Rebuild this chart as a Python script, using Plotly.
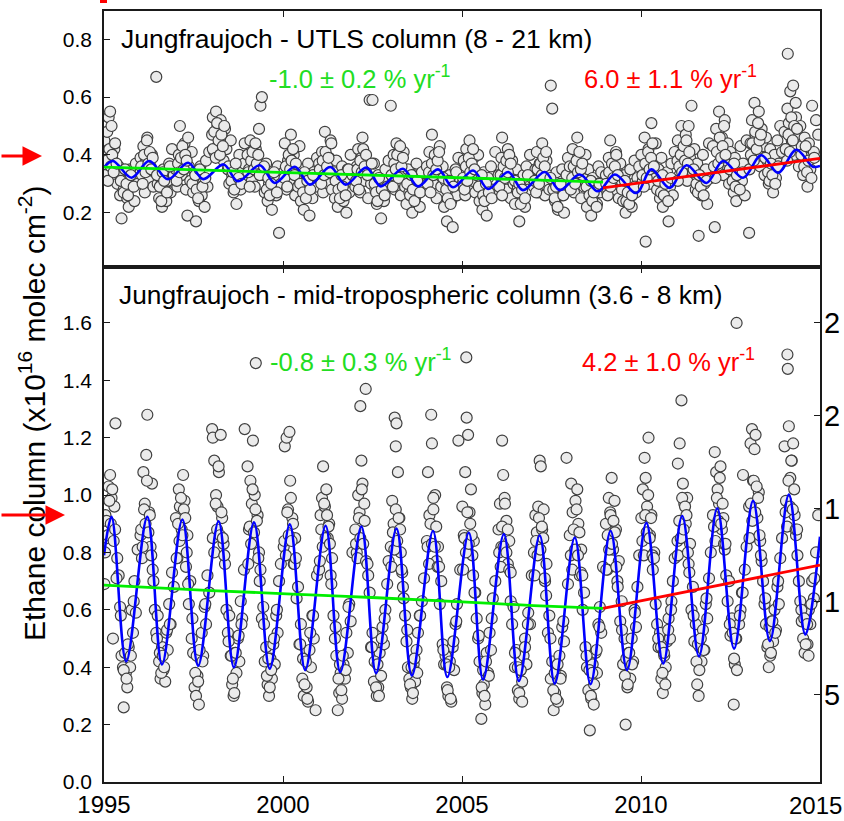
import plotly.graph_objects as go

# ---------------- data (decimal year of each FTIR observation) ----------------
obs_t = [
 1995.01,1995.04,1995.09,1995.13,1995.17,1995.21,1995.25,1995.29,1995.32,1995.37,1995.41,1995.45,1995.49,1995.53,1995.55,1995.61,1995.65,1995.69,1995.73,1995.77,1995.81,1995.85,1995.89,1995.94,
 1996.02,1996.06,1996.10,1996.14,1996.18,1996.21,1996.26,1996.30,1996.34,1996.38,1996.42,1996.46,1996.50,1996.54,1996.58,1996.62,1996.66,1996.71,1996.74,1996.78,1996.82,1996.86,1996.90,1996.95,
 1997.01,1997.05,1997.09,1997.12,1997.17,1997.21,1997.25,1997.29,1997.33,1997.37,1997.41,1997.45,1997.49,1997.53,1997.57,1997.61,1997.65,1997.69,1997.73,1997.77,1997.81,1997.85,1997.89,1997.94,
 1998.02,1998.04,1998.08,1998.13,1998.17,1998.21,1998.26,1998.30,1998.34,1998.38,1998.42,1998.46,1998.50,1998.54,1998.58,1998.62,1998.66,1998.70,1998.74,1998.78,1998.82,1998.86,1998.91,1998.93,
 1999.01,1999.05,1999.09,1999.13,1999.16,1999.21,1999.24,1999.29,1999.33,1999.37,1999.41,1999.45,1999.49,1999.53,1999.57,1999.61,1999.65,1999.69,1999.73,1999.77,1999.81,1999.85,1999.89,1999.94,
 2000.02,2000.05,2000.10,2000.14,2000.18,2000.22,2000.26,2000.30,2000.34,2000.38,2000.42,2000.46,2000.50,2000.54,2000.58,2000.62,2000.66,2000.70,2000.74,2000.78,2000.82,2000.86,2000.91,2000.95,
 2001.01,2001.05,2001.09,2001.12,2001.17,2001.21,2001.25,2001.29,2001.33,2001.37,2001.41,2001.45,2001.49,2001.53,2001.57,2001.61,2001.65,2001.69,2001.73,2001.77,2001.81,2001.85,2001.89,2001.94,
 2002.02,2002.06,2002.10,2002.14,2002.16,2002.19,2002.22,2002.27,2002.31,2002.38,2002.42,2002.46,2002.50,2002.54,2002.58,2002.62,2002.66,2002.70,2002.74,2002.78,2002.82,2002.86,2002.91,2002.95,
 2003.01,2003.05,2003.09,2003.12,2003.15,2003.17,2003.21,2003.25,2003.29,2003.33,2003.37,2003.41,2003.45,2003.49,2003.53,2003.57,2003.61,2003.65,2003.69,2003.73,2003.77,2003.82,2003.88,2003.94,
 2004.02,2004.05,2004.09,2004.14,2004.16,2004.20,2004.25,2004.29,2004.33,2004.38,2004.42,2004.46,2004.50,2004.54,2004.58,2004.62,2004.66,2004.70,2004.74,2004.78,2004.82,2004.86,2004.90,2004.95,
 2005.01,2005.05,2005.09,2005.12,2005.13,2005.17,2005.21,2005.25,2005.29,2005.33,2005.37,2005.41,2005.45,2005.49,2005.54,2005.57,2005.61,2005.65,2005.69,2005.73,2005.77,2005.81,2005.86,2005.93,
 2006.02,2006.06,2006.10,2006.12,2006.15,2006.19,2006.24,2006.28,2006.32,2006.36,2006.40,2006.44,2006.48,2006.52,2006.56,2006.60,2006.64,2006.68,2006.72,2006.76,2006.80,2006.85,2006.90,2006.95,
 2007.01,2007.05,2007.09,2007.13,2007.17,2007.20,2007.24,2007.28,2007.32,2007.36,2007.40,2007.44,2007.48,2007.52,2007.56,2007.60,2007.64,2007.68,2007.72,2007.76,2007.80,2007.85,2007.92,2007.96,
 2008.01,2008.05,2008.09,2008.13,2008.17,2008.22,2008.25,2008.29,2008.33,2008.37,2008.41,2008.45,2008.49,2008.53,2008.57,2008.61,2008.65,2008.69,2008.73,2008.77,2008.81,2008.85,2008.89,2008.94,
 2009.02,2009.06,2009.10,2009.14,2009.18,2009.22,2009.26,2009.30,2009.34,2009.38,2009.42,2009.46,2009.50,2009.54,2009.57,2009.62,2009.66,2009.70,2009.74,2009.78,2009.82,2009.86,2009.90,2009.95,
 2010.01,2010.05,2010.10,2010.13,2010.17,2010.21,2010.25,2010.29,2010.33,2010.37,2010.41,2010.45,2010.49,2010.53,2010.57,2010.61,2010.65,2010.69,2010.73,2010.77,2010.81,2010.85,2010.89,2010.94,
 2011.02,2011.03,2011.08,2011.13,2011.17,2011.21,2011.25,2011.29,2011.33,2011.37,2011.41,2011.45,2011.49,2011.53,2011.57,2011.61,2011.65,2011.69,2011.73,2011.77,2011.81,2011.85,2011.90,2011.95,
 2012.01,2012.06,2012.10,2012.14,2012.18,2012.22,2012.26,2012.30,2012.34,2012.38,2012.42,2012.46,2012.50,2012.54,2012.59,2012.62,2012.66,2012.67,2012.74,2012.78,2012.82,2012.85,2012.90,2012.95,
 2013.02,2013.06,2013.10,2013.13,2013.17,2013.20,2013.25,2013.29,2013.33,2013.37,2013.41,2013.45,2013.49,2013.53,2013.57,2013.61,2013.65,2013.69,2013.73,2013.77,2013.81,2013.85,2013.89,2013.94,
 2014.01,2014.05,2014.09,2014.10,2014.13,2014.17,2014.21,2014.25,2014.29,2014.33,2014.37,2014.41,2014.45,2014.49,2014.53,2014.57,2014.61,2014.65,2014.69,2014.73,2014.78,2014.83,2014.89,2014.95,
 # additional observation days
 1995.03,1995.07,1995.11,1995.15,1995.19,1995.23,1995.27,1995.31,1995.35,1995.47,1995.55,1995.59,1995.63,1995.67,1995.75,1995.83,
 1996.04,1996.08,1996.12,1996.16,1996.20,1996.24,1996.28,1996.32,1996.36,1996.48,1996.56,1996.60,1996.64,1996.68,1996.76,1996.84,
 1997.03,1997.07,1997.11,1997.15,1997.19,1997.23,1997.27,1997.31,1997.35,1997.47,1997.55,1997.59,1997.63,1997.67,1997.75,1997.83,
 1998.04,1998.08,1998.12,1998.16,1998.20,1998.24,1998.28,1998.32,1998.36,1998.48,1998.56,1998.60,1998.64,1998.68,1998.76,1998.84,
 1999.03,1999.07,1999.11,1999.15,1999.19,1999.23,1999.27,1999.31,1999.35,1999.47,1999.55,1999.59,1999.63,1999.67,1999.75,1999.83,
 2000.04,2000.08,2000.12,2000.16,2000.20,2000.24,2000.28,2000.32,2000.36,2000.48,2000.56,2000.60,2000.64,2000.68,2000.76,2000.84,
 2001.03,2001.07,2001.11,2001.15,2001.19,2001.23,2001.27,2001.31,2001.35,2001.47,2001.55,2001.59,2001.63,2001.67,2001.75,2001.83,
 2002.04,2002.08,2002.12,2002.16,2002.20,2002.24,2002.28,2002.32,2002.36,2002.48,2002.56,2002.60,2002.64,2002.68,2002.76,2002.84,
 2003.03,2003.07,2003.11,2003.15,2003.19,2003.23,2003.27,2003.31,2003.35,2003.47,2003.55,2003.59,2003.63,2003.67,2003.75,2003.83,
 2004.04,2004.08,2004.12,2004.16,2004.20,2004.24,2004.28,2004.32,2004.36,2004.48,2004.56,2004.60,2004.64,2004.68,2004.76,2004.84,
 2005.03,2005.07,2005.11,2005.15,2005.19,2005.23,2005.27,2005.31,2005.35,2005.47,2005.55,2005.59,2005.63,2005.67,2005.75,2005.83,
 2006.04,2006.08,2006.12,2006.16,2006.20,2006.24,2006.28,2006.32,2006.36,2006.48,2006.56,2006.60,2006.64,2006.68,2006.76,2006.84,
 2007.03,2007.07,2007.11,2007.15,2007.19,2007.23,2007.27,2007.31,2007.35,2007.47,2007.55,2007.59,2007.63,2007.67,2007.75,2007.83,
 2008.04,2008.08,2008.12,2008.16,2008.20,2008.24,2008.28,2008.32,2008.36,2008.48,2008.56,2008.60,2008.64,2008.68,2008.76,2008.84,
 2009.03,2009.07,2009.11,2009.15,2009.19,2009.23,2009.27,2009.31,2009.35,2009.47,2009.55,2009.59,2009.63,2009.67,2009.75,2009.83,
 2010.04,2010.08,2010.12,2010.16,2010.20,2010.24,2010.28,2010.32,2010.36,2010.48,2010.56,2010.60,2010.64,2010.68,2010.76,2010.84,
 2011.03,2011.07,2011.11,2011.15,2011.19,2011.23,2011.27,2011.31,2011.35,2011.47,2011.55,2011.59,2011.63,2011.67,2011.75,2011.83,
 2012.04,2012.08,2012.12,2012.16,2012.20,2012.24,2012.28,2012.32,2012.36,2012.48,2012.56,2012.60,2012.64,2012.68,2012.76,2012.84,
 2013.03,2013.07,2013.11,2013.15,2013.19,2013.23,2013.27,2013.31,2013.35,2013.47,2013.55,2013.59,2013.63,2013.67,2013.75,2013.83,
 2014.04,2014.08,2014.12,2014.16,2014.20,2014.24,2014.28,2014.32,2014.36,2014.48,2014.56,2014.60,2014.64,2014.68,2014.76,2014.84,
]

# UTLS partial column (x1e16 molec/cm2)
utls_v = [
 .45,.40,.48,.53,.55,.50,.38,.42,.34,.30,.36,.26,.18,.33,.28,.31,.25,.22,.35,.29,.32,.24,.37,.30,
 .39,.33,.43,.27,.38,.46,.31,.36,.40,.29,.34,.67,.30,.25,.32,.22,.35,.28,.24,.31,.37,.27,.42,.33,
 .35,.29,.40,.50,.33,.37,.44,.28,.19,.36,.31,.41,.27,.34,.17,.30,.24,.36,.26,.32,.22,.38,.29,.41,
 .47,.53,.41,.55,.50,.44,.52,.46,.38,.49,.42,.35,.30,.45,.33,.27,.36,.23,.31,.40,.28,.34,.37,.44,
 .40,.35,.45,.31,.38,.29,.42,.36,.49,.57,.60,.33,.27,.37,.24,.30,.34,.21,.28,.32,.26,.36,.13,.30,
 .34,.44,.28,.38,.31,.47,.36,.40,.26,.33,.29,.43,.24,.35,.21,.30,.27,.37,.19,.32,.25,.34,.29,.39,
 .37,.31,.41,.27,.48,.35,.30,.39,.45,.28,.34,.25,.38,.22,.32,.29,.36,.24,.31,.20,.35,.27,.40,.33,
 .29,.36,.42,.33,.27,.39,.46,.31,.35,.25,.59,.30,.59,.37,.28,.23,.33,.26,.18,.31,.24,.35,.29,.38,
 .57,.33,.40,.28,.36,.44,.31,.38,.26,.34,.41,.29,.23,.35,.27,.31,.20,.33,.25,.37,.29,.22,.34,.30,
 .36,.28,.41,.33,.47,.30,.38,.25,.34,.43,.29,.36,.22,.31,.17,.27,.33,.24,.15,.29,.35,.26,.39,.31,
 .30,.38,.26,.42,.34,.29,.45,.36,.31,.39,.27,.33,.40,.24,.30,.21,.34,.27,.19,.32,.25,.36,.28,.41,
 .33,.27,.39,.46,.31,.36,.28,.42,.34,.25,.38,.30,.23,.35,.29,.17,.31,.26,.33,.22,.36,.28,.40,.32,
 .29,.35,.41,.27,.37,.32,.44,.30,.26,.38,.33,.28,.64,.56,.31,.24,.34,.21,.29,.26,.35,.20,.33,.39,
 .36,.30,.42,.27,.34,.46,.31,.38,.25,.33,.29,.40,.22,.35,.28,.19,.32,.26,.30,.23,.36,.27,.34,.29,
 .33,.27,.39,.45,.30,.36,.28,.41,.34,.25,.37,.31,.24,.33,.20,.29,.26,.35,.22,.30,.38,.27,.32,.36,
 .40,.31,.46,.10,.36,.42,.30,.51,.38,.33,.44,.28,.35,.25,.39,.22,.31,.27,.34,.17,.29,.37,.26,.41,
 .38,.45,.33,.50,.41,.36,.47,.31,.50,.39,.57,.34,.42,.28,.37,.12,.33,.26,.40,.30,.35,.23,.44,.32,
 .43,.15,.49,.36,.55,.40,.46,.33,.52,.38,.44,.30,.41,.35,.27,.39,.24,.33,.29,.43,.31,.37,.26,.45,
 .13,.44,.52,.39,.58,.47,.41,.55,.36,.49,.43,.33,.46,.38,.30,.42,.35,.27,.40,.32,.45,.37,.50,.41,
 .48,.42,.56,.75,.51,.62,.45,.64,.40,.53,.47,.36,.50,.43,.33,.46,.39,.29,.44,.35,.57,.41,.52,.47,
 # additional observation days
 .33,.38,.31,.42,.36,.40,.34,.44,.37,.31,.27,.35,.30,.26,.33,.29,
 .36,.30,.40,.34,.45,.37,.41,.35,.39,.33,.29,.24,.34,.31,.27,.36,
 .31,.37,.34,.39,.43,.35,.40,.38,.46,.30,.33,.28,.25,.35,.29,.32,
 .42,.48,.39,.51,.45,.40,.47,.43,.50,.36,.31,.34,.28,.37,.32,.30,
 .34,.29,.38,.41,.35,.44,.37,.40,.33,.36,.28,.32,.26,.30,.34,.27,
 .32,.36,.29,.40,.35,.38,.42,.33,.37,.30,.27,.34,.25,.31,.28,.33,
 .35,.30,.38,.33,.41,.36,.39,.34,.44,.31,.28,.25,.33,.29,.26,.35,
 .31,.35,.28,.38,.34,.42,.36,.40,.33,.37,.30,.27,.24,.32,.28,.26,
 .33,.29,.37,.35,.40,.32,.43,.36,.39,.30,.26,.33,.28,.24,.31,.27,
 .30,.34,.27,.37,.33,.40,.35,.38,.41,.32,.28,.25,.31,.23,.29,.34,
 .32,.28,.36,.31,.39,.34,.37,.42,.35,.29,.33,.26,.24,.30,.27,.25,
 .29,.33,.26,.36,.32,.38,.34,.40,.37,.31,.27,.30,.23,.28,.25,.33,
 .31,.27,.35,.30,.37,.33,.39,.36,.41,.32,.28,.25,.29,.22,.30,.26,
 .28,.32,.36,.30,.38,.34,.41,.35,.37,.29,.26,.31,.24,.27,.22,.30,
 .30,.26,.34,.29,.37,.32,.36,.40,.33,.28,.31,.24,.27,.23,.26,.29,
 .33,.29,.37,.32,.41,.35,.39,.44,.36,.31,.27,.33,.26,.30,.24,.32,
 .31,.36,.40,.34,.43,.38,.45,.37,.41,.35,.30,.27,.33,.29,.26,.31,
 .36,.32,.41,.37,.46,.39,.43,.50,.40,.35,.31,.37,.29,.33,.28,.34,
 .35,.40,.44,.38,.48,.42,.51,.45,.47,.39,.34,.31,.37,.33,.30,.36,
 .42,.38,.47,.41,.53,.45,.50,.58,.49,.40,.36,.43,.34,.38,.32,.39,
]

# mid-tropospheric partial column (x1e16 molec/cm2)
midtrop_v = [
 .69,.93,.85,1.03,1.07,.99,.50,.96,1.25,.78,.72,.61,.44,.40,.26,.38,.33,.47,.40,.60,.52,.70,.59,.81,
 .86,.78,1.08,.97,1.14,1.28,.94,.82,1.04,.70,.60,.52,.58,.42,.36,.47,.39,.35,.52,.46,.62,.55,.73,.68,
 .92,.78,1.02,.96,.88,1.07,.98,.75,.86,.62,.70,.50,.45,.33,.30,.37,.27,.43,.52,.44,.61,.55,.72,.66,
 1.23,1.20,1.12,1.00,.96,1.08,1.21,.92,.83,.76,.60,.52,.58,.44,.34,.30,.45,.38,.50,.42,.63,.57,.74,1.23,
 1.10,.88,1.05,.97,1.19,1.00,1.46,.93,.80,.74,.57,.61,.42,.47,.34,.30,.43,.36,.48,.41,.58,.52,.70,.76,
 .82,1.17,1.20,.95,1.22,.99,.92,.76,.85,.64,.68,.48,.55,.36,.30,.43,.33,.28,.46,.40,.58,.50,.25,.72,
 .74,.93,.99,1.10,.96,1.02,.85,.90,.72,.78,.58,.50,.44,.25,.31,.38,.29,.41,.36,.52,.45,.62,.56,.80,
 .88,.80,1.00,.94,1.31,1.12,1.04,.97,1.37,.72,.66,.47,.52,.35,.42,.30,.33,.45,.37,.54,.48,.60,.69,.77,
 .82,.98,.90,1.27,1.17,1.25,1.08,.92,.80,.73,.64,.58,.49,.40,.36,.33,.29,.41,.35,.46,.52,.58,.63,.71,
 .84,1.08,.93,1.28,1.18,.95,1.00,.77,.82,.62,.70,.48,.41,.44,.33,.30,.42,.28,.47,.39,.55,.62,1.19,.74,
 .96,.86,1.08,1.48,1.27,1.21,.94,1.02,.79,.84,.66,.57,.50,.42,.22,.31,.34,.27,.45,.38,.52,.46,.64,.70,
 .88,.97,.82,1.19,1.07,.99,.91,.76,.84,.63,.55,.61,.40,.46,.32,.29,.39,.35,.44,.50,.41,.59,.55,.72,
 .80,.93,.87,.96,1.12,1.10,.88,.95,.70,.76,.52,.58,.36,.42,.25,.31,.38,.28,.44,.37,.54,.49,1.13,.69,
 .86,1.04,.94,.80,.98,1.02,.90,.72,.81,.60,.66,.47,.40,.32,.18,.29,.41,.34,.45,.38,.55,.61,.52,.75,
 .90,.74,.99,.94,1.06,.81,.98,.88,.70,.77,.56,.63,.41,.50,.20,.33,.45,.36,.50,.42,.60,.54,.68,.79,
 .92,1.02,1.13,1.06,.96,1.20,.86,.93,.74,.80,.62,.55,.47,.52,.36,.31,.44,.40,.49,.57,.50,.63,.70,.78,
 .84,1.11,1.18,1.33,1.04,.97,.90,.99,.76,.83,.60,.68,.49,.55,.34,.30,.47,.42,.53,.46,.62,.57,.71,.80,
 .93,1.15,1.08,1.02,.97,1.10,.88,.92,.81,.72,.63,.70,.51,.57,.27,.41,.50,1.60,.55,.60,.66,1.07,.74,.82,
 .96,1.18,1.23,1.05,1.16,1.21,.92,1.01,.84,.77,.70,.62,.55,.47,.40,.44,.56,.49,.60,.53,.68,.62,.78,.85,
 1.17,.98,1.49,1.44,1.24,1.06,1.12,1.18,.93,.86,.79,.70,.63,.56,.50,.45,.58,.48,.60,.55,.70,.64,.80,.93,
 # additional observation days
 .80,.91,.86,.98,.90,1.02,.84,.88,.71,.58,.39,.45,.36,.48,.44,.63,
 .88,.82,.95,.90,1.05,.87,.93,.79,.74,.50,.45,.38,.44,.40,.53,.55,
 .78,.90,.84,.99,.86,.95,.92,.80,.69,.57,.38,.44,.35,.46,.42,.62,
 .85,.80,.97,.88,1.10,.86,.94,.85,.79,.49,.44,.36,.31,.45,.51,.55,
 .76,.89,.83,1.02,.87,.95,.91,.78,.70,.55,.37,.43,.33,.39,.50,.60,
 .84,.79,.94,.86,1.05,.84,.90,.76,.78,.48,.43,.34,.42,.29,.52,.58,
 .77,.88,.82,.97,.85,.93,.89,.83,.69,.54,.36,.41,.32,.44,.39,.61,
 .83,.78,.92,.85,1.02,.83,.91,.77,.76,.47,.42,.33,.41,.30,.50,.57,
 .75,.87,.81,.95,.84,.92,.88,.74,.68,.53,.34,.40,.31,.43,.38,.58,
 .82,.76,.90,.83,.99,.82,.89,.75,.75,.46,.41,.32,.40,.29,.49,.56,
 .74,.85,.80,.94,.83,.90,.86,.72,.66,.51,.33,.39,.30,.42,.37,.57,
 .80,.75,.89,.82,.97,.80,.88,.74,.73,.45,.40,.31,.39,.28,.47,.55,
 .72,.84,.79,.92,.81,.89,.85,.71,.65,.50,.32,.38,.29,.41,.36,.56,
 .79,.74,.88,.81,.95,.79,.87,.73,.72,.44,.39,.30,.38,.27,.46,.54,
 .74,.86,.81,.93,.83,.91,.87,.75,.68,.53,.37,.43,.34,.45,.41,.59,
 .84,.79,.93,.87,1.00,.85,.92,.79,.78,.50,.47,.38,.45,.34,.53,.60,
 .79,.91,.85,.99,.88,.96,.93,.80,.73,.58,.42,.48,.39,.50,.46,.64,
 .89,.84,.99,.91,1.06,.90,.97,.83,.83,.55,.52,.43,.50,.39,.58,.66,
 .85,.97,.91,1.05,.94,1.03,.99,.86,.79,.64,.48,.54,.45,.56,.52,.70,
 .94,.89,1.05,.96,1.12,.95,1.02,.88,.88,.60,.57,.48,.55,.44,.62,.71,
]

# fitted seasonal curves (maxima / minima)
utls_fit_t = [1995.0,1995.25,1995.77,1996.26,1996.79,1997.35,1997.77,1998.34,1998.74,1999.35,1999.77,
              2000.33,2000.75,2001.32,2001.75,2002.33,2002.73,2003.35,2003.77,2004.33,2004.75,2005.31,
              2005.73,2006.29,2006.70,2007.31,2007.73,2008.29,2008.80,2009.27,2009.87,2010.29,2010.80,
              2011.27,2011.83,2012.29,2012.85,2013.36,2013.83,2014.34,2014.80,2015.0]
utls_fit_v = [.356,.379,.321,.379,.316,.373,.316,.367,.309,.364,.303,
              .359,.297,.358,.297,.356,.291,.352,.291,.350,.288,.346,
              .282,.341,.278,.341,.278,.332,.274,.332,.268,.350,.286,
              .364,.303,.379,.321,.399,.338,.418,.359,.362]
mid_fit_t = [1995.0,1995.21,1995.62,1996.21,1996.62,1997.19,1997.63,1998.20,1998.63,1999.19,1999.63,
             2000.19,2000.62,2001.19,2001.60,2002.19,2002.60,2003.17,2003.60,2004.19,2004.59,2005.19,
             2005.59,2006.17,2006.59,2007.17,2007.59,2008.15,2008.59,2009.15,2009.61,2010.15,2010.62,
             2011.15,2011.62,2012.13,2012.60,2013.13,2013.60,2014.13,2014.59,2015.0]
mid_fit_v = [.790,.924,.420,.924,.410,.915,.405,.909,.400,.905,.395,
             .898,.390,.893,.383,.890,.379,.883,.371,.875,.366,.869,
             .357,.864,.352,.859,.343,.852,.341,.875,.390,.903,.413,
             .927,.438,.954,.465,.980,.491,1.002,.514,.855]

# trend lines
utls_trend1_t = [1995.0, 2008.94]; utls_trend1_v = [.358, .306]
utls_trend2_t = [2008.94, 2015.0]; utls_trend2_v = [.286, .388]
mid_trend1_t = [1995.0, 1998.0, 2001.6, 2005.0, 2007.0, 2008.94]
mid_trend1_v = [.686, .667, .648, .628, .615, .605]
mid_trend2_t = [2008.94, 2015.0]; mid_trend2_v = [.605, .756]

x_ticks = [1995, 2000, 2005, 2010, 2015]
x_ticktext = ["1995", "2000", "2005", "2010", ""]   # last label drawn as annotation so it stays inside
last_xlabel = "2015"
mid_yticks = [0.0, 0.2, 0.4, 0.6, 0.8, 1.0, 1.2, 1.4, 1.6]
utls_yticks = [0.2, 0.4, 0.6, 0.8]
right_ticks = [5, 10, 15, 20, 25]
right_ticktext = ["5", "1", "1", "2", "2"]

# ---------------- figure ----------------
FONT = "Arial, Liberation Sans, sans-serif"
W, H = 844, 821
L, R, T, B = 104, 820, 11, 782
SPLIT = 267

def px(x):
    return (x - L) / (R - L)

def py(y):
    return (B - y) / (B - T)

dom_split = py(SPLIT)

marker = dict(size=11, color="#ebebeb", line=dict(color="#404040", width=1.2))

fig = go.Figure()
# top panel (UTLS)
fig.add_trace(go.Scatter(x=obs_t, y=utls_v, mode="markers", marker=marker,
                         xaxis="x2", yaxis="y2", hoverinfo="skip"))
fig.add_trace(go.Scatter(x=utls_fit_t, y=utls_fit_v, mode="lines",
                         line=dict(color="#0000ff", width=2.6, shape="spline", smoothing=1.0),
                         xaxis="x2", yaxis="y2"))
fig.add_trace(go.Scatter(x=utls_trend1_t, y=utls_trend1_v, mode="lines",
                         line=dict(color="#00ee00", width=2.8), xaxis="x2", yaxis="y2"))
fig.add_trace(go.Scatter(x=utls_trend2_t, y=utls_trend2_v, mode="lines",
                         line=dict(color="#ff0000", width=2.8), xaxis="x2", yaxis="y2"))
# bottom panel (mid-troposphere)
fig.add_trace(go.Scatter(x=obs_t, y=midtrop_v, mode="markers", marker=marker,
                         xaxis="x", yaxis="y", hoverinfo="skip"))
fig.add_trace(go.Scatter(x=mid_fit_t, y=mid_fit_v, mode="lines",
                         line=dict(color="#0000ff", width=2.6, shape="spline", smoothing=1.0),
                         xaxis="x", yaxis="y"))
fig.add_trace(go.Scatter(x=mid_trend1_t, y=mid_trend1_v, mode="lines",
                         line=dict(color="#00ee00", width=2.8, shape="spline"), xaxis="x", yaxis="y"))
fig.add_trace(go.Scatter(x=mid_trend2_t, y=mid_trend2_v, mode="lines",
                         line=dict(color="#ff0000", width=2.8), xaxis="x", yaxis="y"))
# invisible trace to carry the right-hand axis
fig.add_trace(go.Scatter(x=[2000], y=[10], mode="markers", marker=dict(opacity=0),
                         xaxis="x", yaxis="y3", hoverinfo="skip"))

axis_common = dict(showgrid=False, zeroline=False, showline=True, linecolor="#1a1a1a",
                   linewidth=1.6, ticks="inside", ticklen=6, tickwidth=1.3, tickcolor="#1a1a1a",
                   automargin=False)

fig.update_layout(
    width=W, height=H, showlegend=False,
    paper_bgcolor="white", plot_bgcolor="white",
    margin=dict(l=L, r=W - R, t=T, b=H - B, autoexpand=False),
    font=dict(family=FONT, color="black"),
    xaxis=dict(axis_common, range=[1995, 2015], domain=[0, 1], anchor="y", mirror="ticks",
               tickvals=x_ticks, ticktext=x_ticktext, tickfont=dict(size=24)),
    xaxis2=dict(axis_common, range=[1995, 2015], domain=[0, 1], anchor="y2", mirror="ticks",
                tickvals=x_ticks, showticklabels=False, matches="x"),
    yaxis=dict(axis_common, range=[0, 1.795], domain=[0, dom_split], anchor="x", mirror=True,
               tickvals=mid_yticks, ticktext=["%.1f" % v for v in mid_yticks],
               tickfont=dict(size=21), ticklabelstandoff=6),
    yaxis2=dict(axis_common, range=[0.012, 0.898], domain=[dom_split, 1], anchor="x2", mirror=True,
                tickvals=utls_yticks, ticktext=["%.1f" % v for v in utls_yticks],
                tickfont=dict(size=21), ticklabelstandoff=6),
    yaxis3=dict(showgrid=False, zeroline=False, showline=False, overlaying="y", side="right",
                anchor="x", range=[0.285, 28.0], ticks="inside", ticklen=6, tickwidth=1.3,
                tickcolor="#1a1a1a", tickvals=right_ticks, ticktext=right_ticktext,
                tickfont=dict(size=29), ticklabelstandoff=3, automargin=False),
)

ann = []
def text_ann(x, y, text, color, size, xanchor="left"):
    ann.append(dict(x=px(x), y=py(y), xref="paper", yref="paper", text=text, showarrow=False,
                    xanchor=xanchor, yanchor="middle", font=dict(size=size, color=color, family=FONT)))

text_ann(119, 39, "Jungfraujoch - UTLS column (8 - 21 km)", "black", 26.5)
text_ann(267, 77, "-1.0 ± 0.2 % yr<sup>-1</sup>", "#22dd22", 25.5)
text_ann(582, 77, "6.0 ± 1.1 % yr<sup>-1</sup>", "#ff0000", 25.5)
text_ann(117, 295, "Jungfraujoch - mid-tropospheric column (3.6 - 8 km)", "black", 26.3)
text_ann(268, 360, "-0.8 ± 0.3 % yr<sup>-1</sup>", "#22dd22", 25.5)
text_ann(580, 360, "4.2 ± 1.0 % yr<sup>-1</sup>", "#ff0000", 25.5)
text_ann(815, 806, last_xlabel, "black", 24, xanchor="center")

# y-axis title spanning both panels
ann.append(dict(x=px(32), y=py(413), xref="paper", yref="paper", showarrow=False,
                text="Ethane column (x10<sup>16</sup> molec cm<sup>-2</sup>)", textangle=-90,
                xanchor="center", yanchor="middle", font=dict(size=30, color="black", family=FONT)))

# red arrows on the left
for tip_x, tip_y in [(42, 156), (65, 515)]:
    ann.append(dict(x=px(tip_x), y=py(tip_y), xref="paper", yref="paper", text="",
                    showarrow=True, ax=-tip_x, ay=0, axref="pixel", ayref="pixel",
                    arrowhead=2, arrowsize=1.3, arrowwidth=3, arrowcolor="#ff0000", standoff=0))

fig.update_layout(annotations=ann)
fig.add_shape(type="rect", xref="paper", yref="paper", x0=px(100), x1=px(107), y0=py(3), y1=py(0),
              fillcolor="#ff0000", line=dict(width=0), layer="above")

fig.write_html("out.html")
